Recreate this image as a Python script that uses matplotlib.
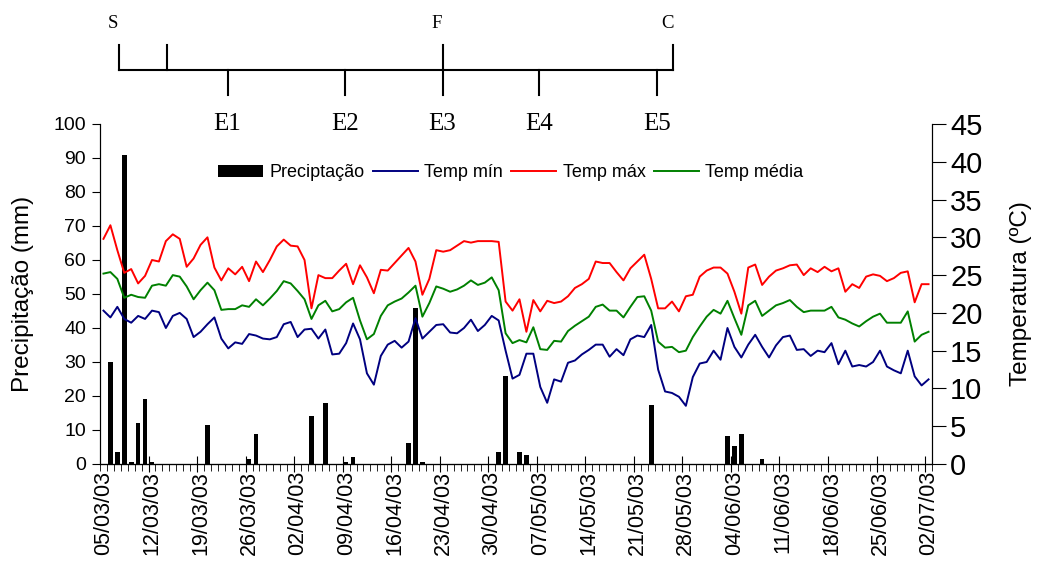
import datetime as dt
import numpy as np
import matplotlib
matplotlib.use('Agg')
import matplotlib.pyplot as plt
import matplotlib.transforms as mtransforms
from matplotlib.patches import Patch

plt.rcParams['font.family'] = ['Liberation Sans', 'DejaVu Sans']

# dias de 05/03/03 a 02/07/03
inicio = dt.date(2003, 3, 5)
n_dias = 120
dias = [inicio + dt.timedelta(days=i) for i in range(n_dias)]
rotulos = [d.strftime('%d/%m/%y') for d in dias]

tmax = [29.8, 31.6, 28.3, 25.3, 25.8, 23.9, 24.9, 27.0, 26.8, 29.5,
        30.4, 29.8, 26.1, 27.2, 29.0, 30.0, 26.0, 24.3, 25.9, 25.1,
        26.1, 24.2, 26.8, 25.4, 27.0, 28.8, 29.7, 28.9, 28.8, 27.0,
        20.6, 25.0, 24.6, 24.6, 25.6, 26.5, 23.8, 26.3, 24.7, 22.6,
        25.7, 25.6, 26.6, 27.6, 28.6, 26.8, 22.4, 24.5, 28.3, 28.1,
        28.3, 28.9, 29.5, 29.3, 29.5, 29.5, 29.5, 29.4, 21.5, 20.3,
        21.8, 17.5, 21.7, 20.2, 21.6, 21.3, 21.5, 22.2, 23.3, 23.8,
        24.5, 26.8, 26.6, 26.6, 25.4, 24.3, 25.9, 26.8, 27.7, 24.5,
        20.6, 20.6, 21.5, 20.2, 22.2, 22.4, 24.8, 25.6, 26.0, 26.0,
        25.2, 22.8, 19.9, 26.0, 26.4, 23.7, 24.8, 25.6, 25.9, 26.3,
        26.4, 25.0, 25.9, 25.4, 26.1, 25.5, 25.9, 22.8, 23.8, 23.3,
        24.8, 25.1, 24.9, 24.2, 24.6, 25.3, 25.5, 21.4, 23.8, 23.8]

tmed = [25.2, 25.4, 24.5, 22.0, 22.4, 22.1, 22.0, 23.6, 23.8, 23.6,
        25.0, 24.8, 23.5, 21.8, 23.0, 24.0, 23.0, 20.4, 20.5, 20.5,
        21.0, 20.8, 21.8, 21.0, 21.9, 22.9, 24.2, 23.9, 22.9, 21.8,
        19.2, 21.0, 21.6, 20.2, 20.5, 21.4, 22.0, 19.0, 16.5, 17.2,
        19.6, 21.0, 21.5, 21.9, 22.7, 23.6, 19.5, 21.3, 23.5, 23.2,
        22.8, 23.1, 23.6, 24.3, 23.7, 24.0, 24.7, 23.0, 17.3, 16.0,
        16.4, 16.1, 18.1, 15.2, 15.1, 16.3, 16.2, 17.6, 18.3, 18.9,
        19.5, 20.8, 21.1, 20.3, 20.3, 19.4, 20.8, 22.1, 22.2, 20.3,
        16.2, 15.4, 15.5, 14.8, 15.0, 16.8, 18.2, 19.5, 20.4, 19.9,
        21.6, 19.3, 17.1, 21.0, 21.6, 19.6, 20.3, 21.0, 21.3, 21.7,
        20.8, 20.1, 20.3, 20.3, 20.3, 20.8, 19.4, 19.1, 18.6, 18.2,
        18.9, 19.5, 19.9, 18.7, 18.7, 18.7, 20.2, 16.2, 17.1, 17.5]

tmin = [20.3, 19.4, 20.8, 19.2, 18.7, 19.6, 19.2, 20.3, 20.1, 18.0,
        19.6, 20.0, 19.2, 16.8, 17.5, 18.5, 19.4, 16.6, 15.3, 16.1,
        15.9, 17.2, 17.0, 16.6, 16.5, 16.8, 18.5, 18.8, 16.8, 17.8,
        17.9, 16.6, 17.8, 14.5, 14.6, 16.0, 18.6, 16.5, 12.0, 10.5,
        14.3, 15.8, 16.3, 15.4, 16.2, 19.3, 16.6, 17.5, 18.4, 18.5,
        17.4, 17.3, 18.0, 19.1, 17.6, 18.4, 19.6, 19.0, 15.0, 11.3,
        11.8, 14.6, 14.6, 10.2, 8.1, 11.2, 10.9, 13.4, 13.7, 14.5,
        15.1, 15.8, 15.8, 14.2, 15.2, 14.4, 16.5, 17.0, 16.8, 18.4,
        12.5, 9.6, 9.4, 8.9, 7.7, 11.5, 13.3, 13.5, 15.0, 13.8,
        18.0, 15.5, 14.1, 15.8, 17.1, 15.5, 14.1, 15.7, 16.8, 17.0,
        15.1, 15.2, 14.3, 15.0, 14.8, 16.0, 13.2, 15.0, 12.9, 13.1,
        12.9, 13.5, 15.0, 12.9, 12.4, 12.0, 15.0, 11.6, 10.4, 11.2]

# precipitacao: dia (indice) -> mm
chuva_dia = [1, 2, 3, 4, 5, 6, 7, 15, 21, 22, 30, 32, 35, 36, 44, 45, 46,
             57, 58, 60, 61, 79, 90, 91, 92, 95]
chuva_mm = [30, 3.6, 91, 0.5, 12, 19, 0.5, 11.5, 1.5, 8.8, 14, 18, 0.7, 2.0,
            6.2, 46, 0.5, 3.6, 26, 3.6, 2.6, 17.5, 8.3, 5.2, 8.8, 1.5]
precip = np.zeros(n_dias)
precip[chuva_dia] = chuva_mm

# estadios fenologicos (posicao em dias)
marcos_cima = [('S', 2.2), ('', 9.2), ('F', 48.9), ('C', 82.1)]
marcos_baixo = [('E1', 17.9), ('E2', 34.9), ('E3', 48.9), ('E4', 62.8), ('E5', 79.8)]

x = np.arange(n_dias)

fig = plt.figure(figsize=(10.37, 5.69), dpi=100)
ax = fig.add_axes([100/1037, 105/569, 832/1037, 340/569])
ax2 = ax.twinx()

ax.bar(x, precip, width=0.68, color='black', zorder=2)
ax.set_xlim(-0.5, n_dias - 0.5)
ax.set_ylim(0, 100)
ax.set_yticks(range(0, 101, 10))
ax.tick_params(axis='y', direction='out', length=6, labelsize=14, pad=4)
ax.set_ylabel('Precipitação (mm)', fontsize=17.5, labelpad=14)

ax.set_xticks(x[::7])
ax.set_xticklabels(rotulos[::7], rotation=90, fontsize=15.5)
ax.tick_params(axis='x', which='major', length=0, pad=5)
ax.set_xticks(np.arange(-0.5, n_dias, 1), minor=True)
ax.tick_params(axis='x', which='minor', direction='out', length=5)
sec = ax.secondary_xaxis('bottom')
sec.set_xticks(np.arange(6.5, n_dias, 7))
sec.tick_params(direction='inout', length=11, labelbottom=False)

l1, = ax2.plot(x, tmin, color='#000080', lw=1.4)
l2, = ax2.plot(x, tmax, color='#ff0000', lw=1.4)
l3, = ax2.plot(x, tmed, color='#008000', lw=1.4)
ax2.set_ylim(0, 45)
ax2.set_yticks(range(0, 46, 5))
ax2.tick_params(axis='y', direction='out', length=10, labelsize=21, pad=3)
ax2.set_ylabel('Temperatura (ºC)', fontsize=17.5, labelpad=20)

for a in (ax, ax2):
    a.spines['top'].set_visible(False)

handles = [Patch(facecolor='black'), l1, l2, l3]
labels = ['Preciptação', 'Temp mín', 'Temp máx', 'Temp média']
ax2.legend(handles, labels, loc='center left', bbox_to_anchor=(0.142, 0.856),
           ncol=4, frameon=False, fontsize=13, handlelength=2.5,
           handletextpad=0.35, columnspacing=0.45, borderaxespad=0, borderpad=0)

# linha do tempo dos estadios
tr = mtransforms.blended_transform_factory(ax.transData, ax.transAxes)
ax.plot([marcos_cima[0][1], marcos_cima[-1][1]], [1.159, 1.159], color='black',
        lw=1.5, transform=tr, clip_on=False)
for nome, d in marcos_cima:
    ax.plot([d, d], [1.159, 1.232], color='black', lw=1.5, transform=tr, clip_on=False)
    if nome:
        ax.text(d - 0.8, 1.295, nome, transform=tr, ha='center', va='center',
                fontsize=13.5, family='Liberation Serif')
for nome, d in marcos_baixo:
    ax.plot([d, d], [1.159, 1.085], color='black', lw=1.5, transform=tr, clip_on=False)
    ax.text(d, 1.0, nome, transform=tr, ha='center', va='center',
            fontsize=18, family='Liberation Serif')

fig.savefig('out.png', dpi=100)
